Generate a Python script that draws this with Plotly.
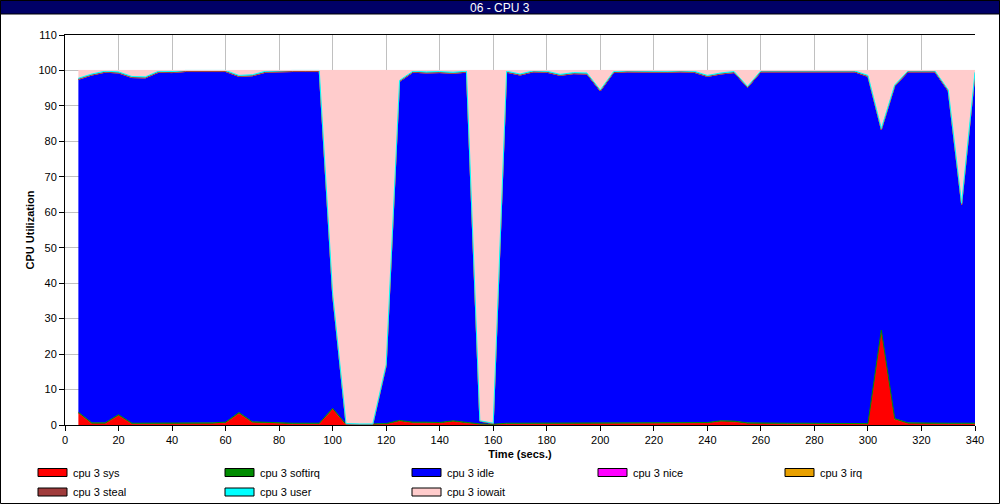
import plotly.graph_objects as go

# ---- data ----
t = list(range(5, 345, 5))

cpu_sys = [3.3, 0.3, 0.3, 2.6, 0.2, 0.2, 0.2, 0.3, 0.3, 0.3, 0.3, 0.5, 3.2, 0.6, 0.4, 0.2, 0.2, 0.2, 0.2, 4.4,
           0.1, 0.1, 0.1, 0.1, 1.0, 0.5, 0.5, 0.4, 0.9, 0.4, 0.2, 0.1, 0.2, 0.2, 0.2, 0.2, 0.2, 0.2, 0.2, 0.2,
           0.2, 0.2, 0.2, 0.2, 0.2, 0.2, 0.2, 0.4, 0.9, 0.8, 0.3, 0.2, 0.2, 0.2, 0.2, 0.2, 0.2, 0.2, 0.2, 0.1,
           26.5, 1.5, 0.3, 0.2, 0.2, 0.2, 0.2, 0.2]
cpu_softirq = [0.3] * 20 + [0.1, 0.1, 0.1] + [0.3] * 7 + [0.1, 0.1] + [0.3] * 36
cpu_idle = [93.9, 98.1, 98.9, 96.4, 97.5, 97.4, 99.0, 98.8, 99.1, 99.1, 99.1, 98.9, 94.8, 97.6, 98.8, 99.2, 99.2, 99.2, 99.2, 32.0,
            0.1, 0.0, 0.0, 16.3, 95.6, 98.7, 98.5, 98.7, 98.0, 98.8, 0.8, 0.2, 99.0, 98.2, 99.1, 99.0, 98.1, 98.6, 98.5, 93.7,
            98.9, 99.1, 99.0, 98.9, 99.0, 99.1, 99.0, 97.6, 97.8, 98.3, 94.6, 99.1, 99.1, 99.1, 99.1, 99.1, 99.0, 99.0, 99.1, 97.9,
            56.5, 93.8, 99.0, 99.1, 99.1, 93.7, 61.7, 98.7]
cpu_nice = [0.0] * 68
cpu_irq = [0.0] * 68
cpu_steal = [0.0] * 68
cpu_user = [0.3] * 20 + [0.1, 0.1, 0.1] + [0.3] * 7 + [0.1, 0.1] + [0.3] * 36
cpu_iowait = [2.2, 1.0, 0.2, 0.4, 1.7, 1.8, 0.2, 0.3, 0.0, 0.0, 0.0, 0.0, 1.4, 1.2, 0.2, 0.0, 0.0, 0.0, 0.0, 63.0,
              99.6, 99.7, 99.7, 83.0, 2.8, 0.2, 0.4, 0.3, 0.5, 0.2, 98.8, 99.5, 0.2, 1.0, 0.1, 0.2, 1.1, 0.6, 0.7, 5.5,
              0.3, 0.1, 0.2, 0.3, 0.2, 0.1, 0.2, 1.4, 0.7, 0.3, 4.5, 0.1, 0.1, 0.1, 0.1, 0.1, 0.2, 0.2, 0.1, 1.4,
              16.4, 4.1, 0.1, 0.1, 0.1, 5.5, 37.5, 0.5]

series_names = ["cpu 3 sys", "cpu 3 softirq", "cpu 3 idle", "cpu 3 nice", "cpu 3 irq",
                "cpu 3 steal", "cpu 3 user", "cpu 3 iowait"]
series_values = [cpu_sys, cpu_softirq, cpu_idle, cpu_nice, cpu_irq, cpu_steal, cpu_user, cpu_iowait]
series_colors = ["#ff0000", "#008c00", "#0000ff", "#ff00ff", "#e8a000", "#a03c3c", "#00ffff", "#ffcccc"]

x_ticks = list(range(0, 341, 20))
y_ticks = list(range(0, 111, 10))

# ---- layout geometry (pixels) ----
W, H = 1000, 504
L, R, T, B = 65, 25, 35, 79
PW, PH = W - L - R, H - T - B


def px(xp):
    return (xp - L) / PW


def py(yp):
    return (H - B - yp) / PH


FONT = "Liberation Sans, Arial, sans-serif"

fig = go.Figure()
for name, vals, col in zip(series_names, series_values, series_colors):
    fig.add_trace(go.Scatter(
        x=t, y=vals, name=name, mode="lines", stackgroup="one",
        line=dict(color=col, width=1), fillcolor=col, showlegend=False,
    ))

shapes = []
annotations = []

# figure border
shapes.append(dict(type="rect", xref="paper", yref="paper",
                   x0=px(0.5), x1=px(W - 0.5), y0=py(H - 0.5), y1=py(0.5),
                   line=dict(color="black", width=1), fillcolor="rgba(0,0,0,0)", layer="above"))
# title bar
shapes.append(dict(type="rect", xref="paper", yref="paper",
                   x0=px(0.5), x1=px(W - 0.5), y0=py(14), y1=py(0.5),
                   line=dict(color="black", width=1), fillcolor="#000066", layer="above"))
annotations.append(dict(text="06 - CPU 3", xref="paper", yref="paper", x=px(500), y=py(7.5),
                        xanchor="center", yanchor="middle", showarrow=False,
                        font=dict(family=FONT, size=12, color="white")))

# custom legend
col_x = [38, 225, 412, 598, 785]
row_y = [472.5, 492]
for i, (name, col) in enumerate(zip(series_names, series_colors)):
    r, c = divmod(i, 5)
    x0 = col_x[c]
    yc = row_y[r]
    shapes.append(dict(type="rect", xref="paper", yref="paper",
                       x0=px(x0), x1=px(x0 + 29), y0=py(yc + 4), y1=py(yc - 4),
                       line=dict(color="black", width=1), fillcolor=col))
    annotations.append(dict(text=name, xref="paper", yref="paper", x=px(x0 + 33), y=py(yc),
                            xanchor="left", yanchor="middle", showarrow=False,
                            font=dict(family=FONT, size=11, color="black")))

fig.update_layout(
    width=W, height=H,
    margin=dict(l=L, r=R, t=T, b=B, pad=0),
    paper_bgcolor="white", plot_bgcolor="white",
    font=dict(family=FONT, size=11, color="black"),
    showlegend=False,
    shapes=shapes, annotations=annotations,
    xaxis=dict(range=[0, 340], tickvals=x_ticks, ticktext=[str(v) for v in x_ticks],
               showgrid=True, gridcolor="#c0c0c0", gridwidth=1, zeroline=False,
               showline=True, linecolor="black", linewidth=1, mirror=True,
               ticks="outside", ticklen=5, tickcolor="black",
               title=dict(text="<b>Time (secs.)</b>", font=dict(size=11), standoff=5)),
    yaxis=dict(range=[0, 110], tickvals=y_ticks, ticktext=[str(v) for v in y_ticks],
               showgrid=True, gridcolor="#c0c0c0", gridwidth=1, zeroline=False,
               showline=True, linecolor="black", linewidth=1,
               ticks="outside", ticklen=5, tickcolor="black",
               title=dict(text="<b>CPU Utilization</b>", font=dict(size=11), standoff=1)),
)

fig.write_html("out.html", config={"displayModeBar": False},
               post_script="document.body.style.margin='0px';document.body.style.overflow='hidden';")
